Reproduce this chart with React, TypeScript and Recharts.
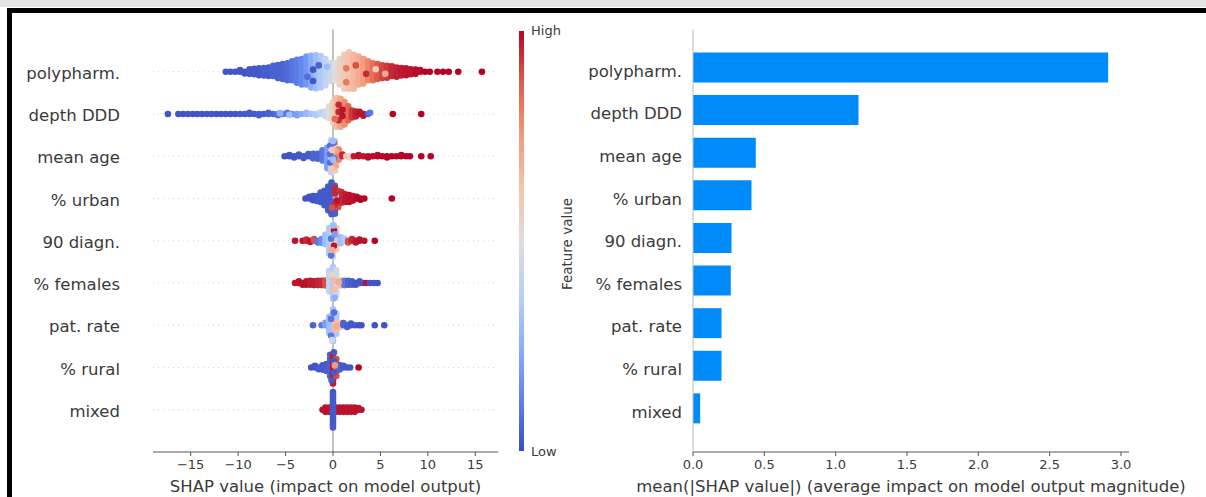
import React from 'react';
import { Bar, BarChart, ReferenceLine, Scatter, ScatterChart, XAxis, YAxis } from 'recharts';

// feature names, top to bottom
const features = ['polypharm.', 'depth DDD', 'mean age', '% urban', '90 diagn.', '% females', 'pat. rate', '% rural', 'mixed'];

// mean(|SHAP value|) per feature, same order
const meanAbsShap = [2.91, 1.16, 0.44, 0.41, 0.27, 0.265, 0.2, 0.2, 0.05];

const shapTicks = [-15, -10, -5, 0, 5, 10, 15];
const barTicks = [0, 0.5, 1, 1.5, 2, 2.5, 3];

// beeswarm columns: [shap value, feature value (0 low .. 1 high), ...vertical offsets in row units]
type Column = number[];

const polypharmSwarm: Column[] = [
  [-11.3, 0.02, 0], [-10.8, 0.02, 0], [-10.3, 0.02, 0],
  [-9.8, 0.02, 0, 0.04], [-9.3, 0.02, 0, -0.04],
  [-8.8, 0.03, 0, 0.06, -0.05], [-8.3, 0.03, 0, 0.07, -0.06],
  [-7.8, 0.03, 0, 0.08, -0.08], [-7.3, 0.04, 0, 0.09, -0.09],
  [-6.8, 0.04, 0, 0.1, -0.1], [-6.3, 0.05, 0, 0.1, -0.1, 0.14],
  [-5.8, 0.05, 0, 0.1, -0.1, 0.16, -0.15], [-5.3, 0.06, 0, 0.1, -0.1, 0.18, -0.17],
  [-4.8, 0.07, 0, 0.1, -0.1, 0.2, -0.2], [-4.3, 0.09, 0, 0.1, -0.1, 0.2, -0.2, 0.25],
  [-3.8, 0.11, 0, 0.1, -0.1, 0.2, -0.2, 0.28, -0.26], [-3.3, 0.14, 0, 0.1, -0.1, 0.2, -0.2, 0.3, -0.3],
  [-2.8, 0.18, 0, 0.1, -0.1, 0.2, -0.2, 0.3, -0.3, 0.36],
  [-2.3, 0.24, 0, 0.1, -0.1, 0.2, -0.2, 0.3, -0.3, 0.38, -0.37],
  [-1.8, 0.3, 0, 0.1, -0.1, 0.2, -0.2, 0.3, -0.3, 0.39, -0.39],
  [-1.3, 0.35, 0, 0.1, -0.1, 0.2, -0.2, 0.3, -0.3, 0.37, -0.37],
  [-0.8, 0.4, 0, 0.1, -0.1, 0.2, -0.2, 0.3, -0.32],
  [-0.3, 0.45, 0, 0.1, -0.1, 0.2, -0.22],
  [0.2, 0.5, 0, 0.1, -0.1, 0.2, -0.2],
  [0.7, 0.56, 0, 0.1, -0.1, 0.2, -0.2, 0.3, -0.3],
  [1.2, 0.6, 0, 0.1, -0.1, 0.2, -0.2, 0.3, -0.3, 0.4, -0.4],
  [1.7, 0.63, 0, 0.1, -0.1, 0.2, -0.2, 0.3, -0.3, 0.4, -0.4, 0.46],
  [2.2, 0.66, 0, 0.1, -0.1, 0.2, -0.2, 0.3, -0.3, 0.4, -0.4],
  [2.7, 0.7, 0, 0.1, -0.1, 0.2, -0.2, 0.3, -0.3, 0.36],
  [3.2, 0.74, 0, 0.1, -0.1, 0.2, -0.2, 0.3, -0.28],
  [3.7, 0.79, 0, 0.1, -0.1, 0.2, -0.2, 0.25],
  [4.2, 0.84, 0, 0.1, -0.1, 0.2, -0.2],
  [4.7, 0.88, 0, 0.1, -0.1, 0.18, -0.17],
  [5.2, 0.91, 0, 0.1, -0.1, 0.15, -0.15], [5.7, 0.93, 0, 0.1, -0.1, -0.14, 0.14],
  [6.2, 0.95, 0, 0.1, -0.1, 0.13], [6.7, 0.96, 0, 0.1, -0.1, -0.12],
  [7.2, 0.97, 0, 0.09, -0.09], [7.7, 0.98, 0, 0.08, -0.08],
  [8.2, 0.98, 0, 0.06, -0.06], [8.7, 0.99, 0, -0.05, 0.05], [9.2, 0.99, 0, 0.04], [9.7, 1, 0], [10.2, 1, 0],
  [11.0, 1, 0], [11.6, 1, 0], [12.2, 1, 0], [13.2, 1, 0], [15.7, 1, 0],
  [-2.1, 0.02, 0.05, -0.22], [-1.5, 0.05, 0.15], [-2.7, 0.08, -0.12], [-0.6, 0.3, 0.12],
  [1.4, 0.82, 0.08, -0.25], [2.4, 0.9, 0.15], [3.5, 0.95, -0.05], [4.5, 0.6, 0.06], [5.5, 0.7, -0.05],
];

const depthSwarm: Column[] = [
  [-17.4, 0.02, 0], [-16.3, 0.02, 0], [-15.8, 0.02, 0], [-15.3, 0.02, 0], [-14.8, 0.02, 0],
  [-14.3, 0.02, 0], [-13.8, 0.02, 0], [-13.3, 0.02, 0], [-12.8, 0.02, 0], [-12.3, 0.02, 0],
  [-11.8, 0.02, 0], [-11.3, 0.02, 0], [-10.8, 0.02, 0], [-10.3, 0.02, 0], [-9.8, 0.03, 0],
  [-9.3, 0.03, 0], [-8.8, 0.03, 0, 0.03], [-8.3, 0.03, 0], [-7.8, 0.04, 0, -0.03], [-7.3, 0.04, 0],
  [-6.8, 0.05, 0, 0.03], [-6.3, 0.06, 0], [-5.8, 0.08, 0, -0.03], [-5.3, 0.12, 0], [-4.8, 0.1, 0, 0.03],
  [-4.3, 0.16, 0], [-3.8, 0.2, 0, -0.03], [-3.3, 0.24, 0], [-2.8, 0.28, 0, 0.03], [-2.3, 0.32, 0],
  [-1.8, 0.36, 0, -0.03], [-1.3, 0.4, 0, 0.04], [-0.8, 0.44, 0, 0.06, -0.05],
  [-0.4, 0.5, 0, 0.1, -0.1, 0.18],
  [0.0, 0.58, 0, 0.1, -0.1, 0.2, -0.2, 0.28],
  [0.4, 0.66, 0, 0.1, -0.1, 0.2, -0.2, 0.3, -0.3, 0.38],
  [0.8, 0.72, 0, 0.1, -0.1, 0.2, -0.2, 0.3, -0.3, 0.36],
  [1.2, 0.78, 0, 0.1, -0.1, 0.2, -0.2, 0.28, -0.25],
  [1.6, 0.86, 0, 0.1, -0.1, 0.18, -0.15],
  [2.0, 0.93, 0, 0.08, -0.08], [2.4, 0.96, 0, 0.06, -0.06], [2.8, 0.98, 0, 0.05], [3.2, 0.98, 0, -0.04],
  [3.7, 0.05, 0], [3.9, 0.1, 0.03], [6.3, 1, 0], [9.3, 1, 0],
  [0.6, 0.95, 0.05, -0.15, 0.22], [1.0, 0.98, 0.1, -0.05], [0.2, 0.85, -0.12], [-5.6, 0.25, 0.02], [-4.6, 0.3, -0.02],
];

const ageSwarm: Column[] = [
  [-5.1, 0.02, 0], [-4.6, 0.02, 0, 0.03], [-4.1, 0.02, 0, -0.03], [-3.6, 0.03, 0, 0.04],
  [-3.1, 0.03, 0, -0.04], [-2.6, 0.04, 0, 0.05], [-2.1, 0.05, 0, -0.05, 0.06], [-1.6, 0.06, 0, 0.06, -0.06],
  [-1.1, 0.1, 0, 0.1, -0.1, 0.14],
  [-0.6, 0.2, 0, 0.1, -0.1, 0.2, -0.2, -0.28],
  [-0.2, 0.4, 0, 0.1, -0.1, 0.2, -0.2, 0.3, -0.3, 0.38, -0.38],
  [0.2, 0.6, 0, 0.1, -0.1, 0.2, -0.2, 0.3, -0.3, 0.36, -0.34],
  [0.6, 0.8, 0, 0.08, -0.08, 0.16],
  [1.0, 0.95, 0, 0.04], [1.4, 0.6, 0], [1.8, 0.55, 0, -0.03], [2.2, 0.97, 0], [2.7, 0.98, 0, 0.03],
  [3.2, 0.98, 0], [3.7, 0.99, 0, -0.03], [4.2, 0.99, 0], [4.7, 0.99, 0, 0.03], [5.2, 1, 0],
  [5.7, 1, 0, -0.03], [6.2, 1, 0], [6.7, 1, 0], [7.2, 1, 0, 0.03], [7.7, 1, 0], [8.1, 1, 0],
  [9.3, 1, 0], [10.3, 1, 0],
  [-0.3, 0.08, 0.05, -0.15, 0.25], [0.1, 0.1, -0.05, 0.32], [0.3, 0.72, 0.12, -0.22],
  [-0.1, 0.62, 0.15, -0.3], [0.0, 0.3, 0.36, -0.08],
];

const urbanSwarm: Column[] = [
  [-2.9, 0.02, 0], [-2.5, 0.02, 0, 0.04], [-2.1, 0.02, 0, -0.04, 0.06], [-1.7, 0.03, 0, 0.06, -0.06],
  [-1.3, 0.03, 0, 0.08, -0.08, 0.14], [-0.9, 0.03, 0, 0.1, -0.1, 0.18, -0.16],
  [-0.5, 0.03, 0, 0.1, -0.1, 0.2, -0.2, 0.28, -0.28],
  [-0.15, 0.03, 0, 0.1, -0.1, 0.2, -0.2, 0.3, -0.3, 0.38, -0.37],
  [0.2, 0.04, 0, 0.1, -0.1, 0.2, -0.2, 0.3, -0.3, -0.36],
  [0.55, 0.9, 0, 0.1, -0.1, 0.18, -0.2], [0.9, 0.95, 0, 0.1, -0.1, 0.15], [1.3, 0.97, 0, 0.1, -0.08],
  [1.7, 0.98, 0, 0.08, -0.08], [2.1, 0.98, 0, 0.06, -0.05], [2.5, 0.99, 0, 0.04], [2.9, 1, 0, -0.03],
  [3.3, 1, 0], [6.2, 1, 0],
  [0.3, 0.3, 0.05], [0.2, 0.95, 0.12, -0.15, 0.25], [0.4, 0.98, -0.05], [-0.1, 0.9, -0.22],
];

const diagnSwarm: Column[] = [
  [-4.0, 0.98, 0], [-3.2, 0.98, 0], [-2.8, 0.95, 0, 0.03], [-2.4, 0.97, 0, -0.03], [-2.0, 0.9, 0, 0.04],
  [-1.6, 0.1, 0, -0.04], [-1.2, 0.15, 0, 0.04, -0.05], [-0.8, 0.3, 0, 0.08, -0.08, 0.14],
  [-0.4, 0.35, 0, 0.1, -0.1, 0.2, -0.2, 0.3, -0.3],
  [0.0, 0.45, 0, 0.1, -0.1, 0.2, -0.2, 0.3, -0.3, 0.38, -0.38],
  [0.35, 0.6, 0, 0.1, -0.1, 0.2, -0.2, 0.3],
  [0.8, 0.3, 0, 0.08, -0.06], [1.2, 0.35, 0, 0.05], [1.6, 0.9, 0, -0.04], [2.0, 0.95, 0, 0.04],
  [2.4, 0.97, 0, -0.04], [2.8, 0.98, 0, 0.03], [3.3, 0.98, 0], [4.4, 1, 0],
  [0.1, 0.98, 0.25, -0.12], [-0.2, 0.1, 0.05, -0.35], [0.2, 0.2, 0.15], [-0.1, 0.7, -0.22], [0.05, 0.3, 0.36],
];

const femalesSwarm: Column[] = [
  [-4.0, 0.98, 0], [-3.6, 0.98, 0, 0.04], [-3.2, 0.98, 0, -0.04], [-2.8, 0.98, 0, 0.04, -0.04],
  [-2.4, 0.97, 0, 0.05, -0.04], [-2.0, 0.97, 0, -0.05, 0.04], [-1.6, 0.96, 0, 0.05, -0.05],
  [-1.2, 0.95, 0, 0.05, -0.05], [-0.8, 0.9, 0, 0.06, -0.06],
  [-0.4, 0.4, 0, 0.1, -0.1, 0.2, -0.2, 0.28],
  [0.0, 0.35, 0, 0.1, -0.1, 0.2, -0.2, 0.3, -0.3, 0.38, -0.38],
  [0.35, 0.45, 0, 0.1, -0.1, 0.2, -0.2, 0.3, -0.28],
  [0.8, 0.65, 0, 0.06, -0.06], [1.2, 0.1, 0, 0.05, -0.05], [1.6, 0.05, 0, 0.05, -0.04],
  [2.0, 0.04, 0, 0.04, -0.04], [2.4, 0.03, 0, -0.04], [2.8, 0.03, 0, 0.04], [3.2, 0.02, 0],
  [3.5, 0.98, 0], [3.9, 0.02, 0], [4.3, 0.02, 0], [4.7, 0.02, 0],
  [0.1, 0.65, 0.05, -0.15], [-0.1, 0.55, 0.2], [0.2, 0.25, -0.35], [0.6, 0.7, 0.02],
];

const patRateSwarm: Column[] = [
  [-2.1, 0.05, 0], [-1.2, 0.1, 0], [-0.8, 0.2, 0, 0.06],
  [-0.4, 0.3, 0, 0.1, -0.1, 0.2, -0.18],
  [0.0, 0.32, 0, 0.1, -0.1, 0.2, -0.2, 0.3, -0.3, 0.38, -0.38],
  [0.35, 0.35, 0, 0.1, -0.1, 0.2, -0.2, 0.28],
  [0.7, 0.62, 0, 0.06, -0.05], [1.1, 0.05, 0, 0.05], [1.5, 0.04, 0, -0.04], [1.9, 0.03, 0, 0.04],
  [2.3, 0.03, 0], [2.7, 0.02, 0], [3.0, 0.02, 0], [4.4, 0.02, 0], [5.4, 0.02, 0],
  [0.2, 0.65, 0.05, -0.1], [-0.2, 0.1, 0.15, -0.25], [0.1, 0.08, 0.3], [0.4, 0.7, -0.02], [-0.1, 0.45, -0.35],
];

const ruralSwarm: Column[] = [
  [-2.3, 0.02, 0], [-1.9, 0.02, 0, 0.04], [-1.5, 0.03, 0, -0.04], [-1.1, 0.03, 0, 0.05, -0.05],
  [-0.7, 0.04, 0, 0.08, -0.08], [-0.3, 0.05, 0, 0.1, -0.1, 0.2, -0.2, 0.3],
  [0.0, 0.97, 0, 0.1, -0.1, 0.2, -0.2, 0.3, -0.3, -0.38],
  [0.35, 0.9, 0, 0.1, -0.1, 0.2, -0.2],
  [0.7, 0.05, 0, 0.06, -0.05], [1.1, 0.03, 0, 0.04], [1.5, 0.03, 0], [1.8, 0.03, 0], [2.7, 1, 0],
  [0.1, 0.03, 0.36, 0.15, -0.12], [0.2, 0.75, 0.05], [-0.15, 0.03, -0.3],
];

const mixedSwarm: Column[] = [
  [-1.1, 0.98, 0], [-0.8, 0.98, 0, 0.05, -0.05], [-0.4, 0.98, 0, 0.05, -0.05],
  [0.3, 0.98, 0, 0.05, -0.05], [0.7, 0.98, 0, 0.05, -0.05], [1.1, 0.98, 0, 0.05, -0.05],
  [1.5, 0.98, 0, 0.05, -0.05], [1.9, 0.98, 0, 0.05, -0.05], [2.3, 0.98, 0, 0.05, -0.05],
  [2.7, 0.98, 0, 0.04], [3.0, 0.98, 0],
  [0.0, 0.03, 0, 0.06, -0.06, 0.12, -0.12, 0.18, -0.18, 0.24, -0.24, 0.3, -0.3, 0.36, -0.36, 0.42, -0.42],
];

const swarms = [polypharmSwarm, depthSwarm, ageSwarm, urbanSwarm, diagnSwarm, femalesSwarm, patRateSwarm, ruralSwarm, mixedSwarm];

// matplotlib "coolwarm"
const coolwarmStops = [
  [59, 76, 192], [98, 130, 234], [141, 176, 254], [184, 208, 249], [221, 221, 221],
  [245, 196, 173], [244, 154, 123], [222, 96, 77], [180, 4, 38],
];

function coolwarm(t: number) {
  const p = Math.max(0, Math.min(1, t)) * (coolwarmStops.length - 1);
  const i = Math.min(coolwarmStops.length - 2, Math.floor(p));
  const f = p - i;
  const a = coolwarmStops[i];
  const b = coolwarmStops[i + 1];
  const c = a.map((v, k) => Math.round(v + (b[k] - v) * f));
  return `rgb(${c[0]},${c[1]},${c[2]})`;
}

const nRows = features.length;

const points = swarms.flatMap((cols, i) =>
  cols.flatMap(([x, fv, ...dys]) => dys.map((dy) => ({ x, y: nRows - 1 - i + dy, fv }))),
);

const barData = features.map((name, i) => ({ name, value: meanAbsShap[i] }));

const FONT = 'DejaVu Sans';
const TEXT = '#3a3a3a';
const LABEL_SIZE = 16.5;

const minusFmt = (v: number) => (v < 0 ? `\u2212${-v}` : `${v}`);

function FeatureTick(props: any) {
  const { x, y, payload } = props;
  return (
    <text x={x} y={y + 7} textAnchor="end" fontSize={LABEL_SIZE} fill={TEXT} fontFamily={FONT}>
      {features[nRows - 1 - payload.value]}
    </text>
  );
}

function BarNameTick(props: any) {
  const { x, y, payload } = props;
  return (
    <text x={x} y={y + 9} textAnchor="end" fontSize={LABEL_SIZE} fill={TEXT} fontFamily={FONT}>
      {payload.value}
    </text>
  );
}

const Dot = (props: any) => <circle cx={props.cx} cy={props.cy} r={3.3} fill={coolwarm(props.payload.fv)} />;

export default function App() {
  const gradient = `linear-gradient(to top, ${coolwarmStops
    .map((c, i) => `rgb(${c.join(',')}) ${(i / (coolwarmStops.length - 1)) * 100}%`)
    .join(', ')})`;

  return (
    <div style={{ position: 'absolute', left: 0, top: 0, width: 1206, height: 497, background: '#fff', overflow: 'hidden', fontFamily: FONT }}>
      <div style={{ position: 'absolute', left: 0, top: 0, width: 1206, height: 7, background: '#e4e4e4' }} />
      <div style={{ position: 'absolute', left: 7, top: 8, width: 1199, height: 5, background: '#000' }} />
      <div style={{ position: 'absolute', left: 7, top: 8, width: 5, height: 489, background: '#000' }} />

      {/* beeswarm summary */}
      <div style={{ position: 'absolute', left: 0, top: 0 }}>
        <ScatterChart width={520} height={497} margin={{ top: 29.5, right: 22, bottom: 0, left: 0 }}>
          <XAxis
            type="number"
            dataKey="x"
            domain={[-18.97, 17.39]}
            ticks={shapTicks}
            tickFormatter={minusFmt}
            height={45}
            stroke="#555"
            tickSize={4}
            tickMargin={4}
            tick={{ fill: TEXT, fontSize: 13, fontFamily: FONT }}
            label={{ value: 'SHAP value (impact on model output)', position: 'insideBottom', offset: 5, fill: TEXT, fontSize: LABEL_SIZE, fontFamily: FONT }}
          />
          <YAxis
            type="number"
            dataKey="y"
            domain={[-1, 9]}
            ticks={[0, 1, 2, 3, 4, 5, 6, 7, 8]}
            width={153}
            axisLine={false}
            tickLine={false}
            tickSize={0}
            tickMargin={33}
            tick={<FeatureTick />}
          />
          {features.map((_, i) => (
            <ReferenceLine key={i} y={i} stroke="#cccccc" strokeWidth={0.8} strokeDasharray="1 4" />
          ))}
          <ReferenceLine x={0} stroke="#999999" strokeWidth={1.2} />
          <Scatter data={points} shape={<Dot />} isAnimationActive={false} />
        </ScatterChart>
      </div>

      {/* colour bar */}
      <div style={{ position: 'absolute', left: 519, top: 31, width: 5, height: 420, background: gradient }} />
      <div style={{ position: 'absolute', left: 531, top: 22, fontSize: 13, color: TEXT, lineHeight: '18px' }}>High</div>
      <div style={{ position: 'absolute', left: 531, top: 443, fontSize: 13, color: TEXT, lineHeight: '18px' }}>Low</div>
      <div
        style={{
          position: 'absolute',
          left: 567,
          top: 244,
          fontSize: 13.5,
          color: TEXT,
          whiteSpace: 'nowrap',
          transform: 'translate(-50%, -50%) rotate(-90deg)',
        }}
      >
        Feature value
      </div>

      {/* global importance */}
      <div style={{ position: 'absolute', left: 520, top: 0 }}>
        <BarChart layout="vertical" width={686} height={497} data={barData} margin={{ top: 29.5, right: 77, bottom: 0, left: 0 }}>
          <XAxis
            type="number"
            dataKey="value"
            domain={[0, 3.056]}
            ticks={barTicks}
            tickFormatter={(v: number) => v.toFixed(1)}
            height={45}
            stroke="#555"
            tickSize={4}
            tickMargin={4}
            tick={{ fill: TEXT, fontSize: 13, fontFamily: FONT }}
            label={{
              value: 'mean(|SHAP value|) (average impact on model output magnitude)',
              position: 'insideBottom',
              offset: 5,
              fill: TEXT,
              fontSize: LABEL_SIZE,
              fontFamily: FONT,
            }}
          />
          <YAxis
            type="category"
            dataKey="name"
            width={173}
            padding={{ top: 17, bottom: 22 }}
            stroke="#bbbbbb"
            tickLine={false}
            tickSize={0}
            tickMargin={11}
            tick={<BarNameTick />}
          />
          <Bar dataKey="value" fill="#008bfb" barSize={30} isAnimationActive={false} />
        </BarChart>
      </div>
    </div>
  );
}
